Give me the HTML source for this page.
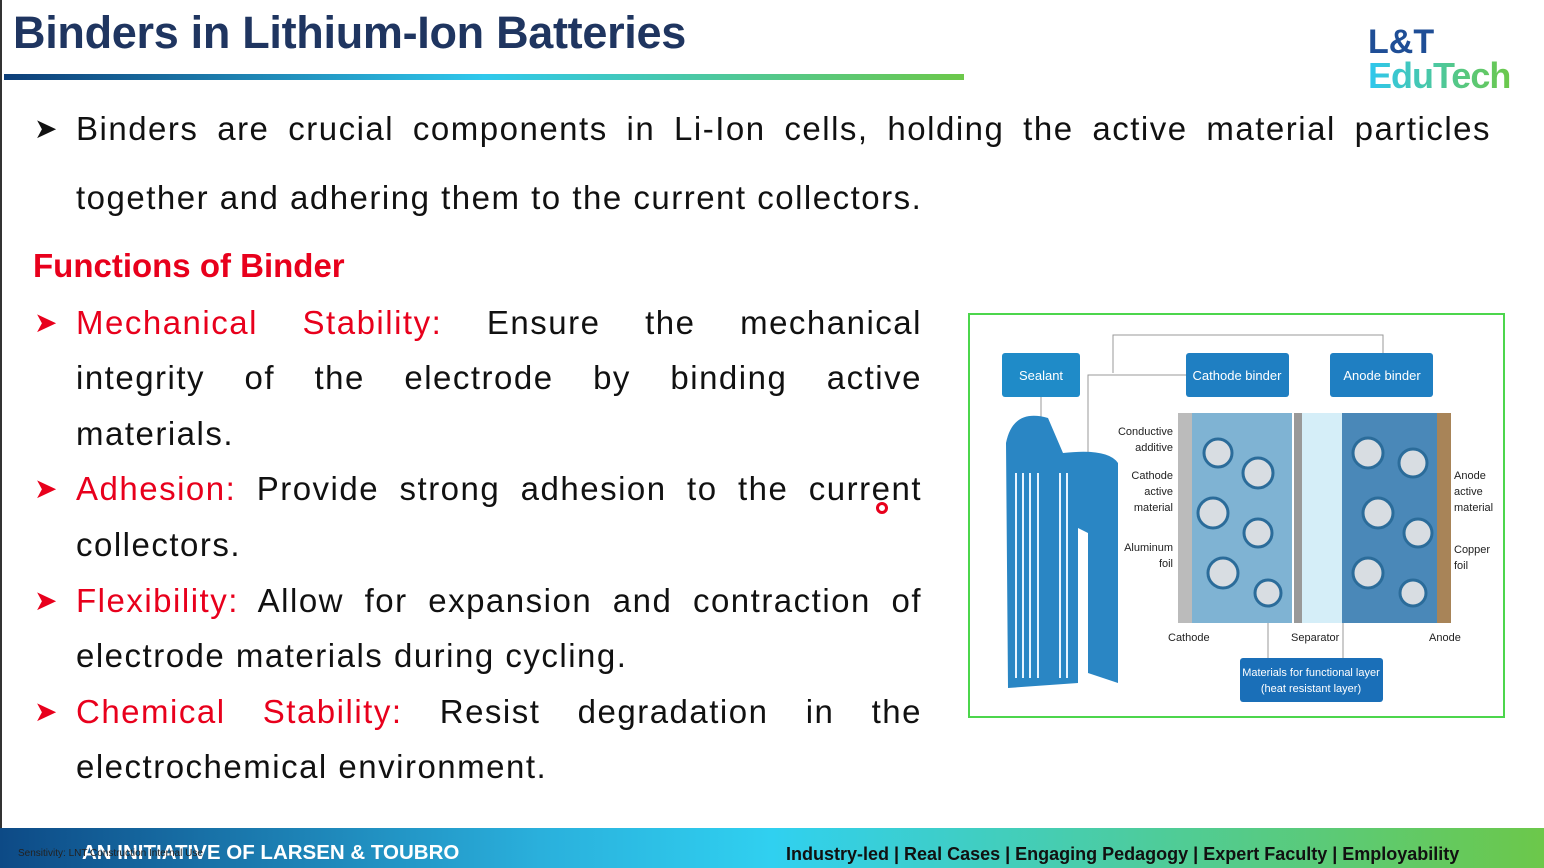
<!DOCTYPE html>
<html><head><meta charset="utf-8"><style>
*{margin:0;padding:0;box-sizing:border-box}
body{width:1544px;height:868px;background:#fff;position:relative;overflow:hidden;font-family:"Liberation Sans",sans-serif}
.abs{position:absolute}
.ln{position:absolute;left:76px;width:846px;font-size:33px;letter-spacing:1.5px;color:#111;text-align:justify;text-align-last:justify;white-space:nowrap;line-height:40px}
.ln.l{text-align-last:left}
.r{color:#e8001c}
.arr{position:absolute;left:34px;font-size:28px;color:#111;line-height:40px}
.arr.red{color:#e8001c}
</style></head><body>
<div class="abs" style="left:0;top:0;width:2px;height:828px;background:#333"></div>
<div class="abs" style="left:13px;top:7px;font-size:45px;font-weight:bold;color:#1f3560;letter-spacing:-0.3px">Binders in Lithium-Ion Batteries</div>
<div class="abs" style="left:4px;top:74px;width:960px;height:6px;background:linear-gradient(90deg,#0d3e78,#2fc8ec 50%,#6cc84a)"></div>
<div class="abs" style="left:1368px;top:26px;font-size:34px;font-weight:bold;color:#1f4e96;line-height:32px">L&amp;T</div>
<div class="abs" style="left:1368px;top:58px;font-size:36px;font-weight:bold;line-height:36px;letter-spacing:-1px;background:linear-gradient(90deg,#2ec7ef,#6cc84a);-webkit-background-clip:text;color:transparent">EduTech</div>

<div class="arr" style="top:109px">&#10148;</div>
<div class="ln" style="top:109px;width:1415px">Binders are crucial components in Li-Ion cells, holding the active material particles</div>
<div class="ln l" style="top:178px;width:1415px">together and adhering them to the current collectors.</div>

<div class="abs" style="left:33px;top:247px;font-size:33px;font-weight:bold;color:#e8001c">Functions of Binder</div>

<div class="arr red" style="top:303px">&#10148;</div>
<div class="ln" style="top:303px"><span class="r">Mechanical Stability:</span> Ensure the mechanical</div>
<div class="ln" style="top:358px">integrity of the electrode by binding active</div>
<div class="ln l" style="top:414px">materials.</div>
<div class="arr red" style="top:469px">&#10148;</div>
<div class="ln" style="top:469px"><span class="r">Adhesion:</span> Provide strong adhesion to the current</div>
<div class="ln l" style="top:525px">collectors.</div>
<div class="arr red" style="top:581px">&#10148;</div>
<div class="ln" style="top:581px"><span class="r">Flexibility:</span> Allow for expansion and contraction of</div>
<div class="ln l" style="top:636px">electrode materials during cycling.</div>
<div class="arr red" style="top:692px">&#10148;</div>
<div class="ln" style="top:692px"><span class="r">Chemical Stability:</span> Resist degradation in the</div>
<div class="ln l" style="top:747px">electrochemical environment.</div>
<div class="abs" style="left:876px;top:502px;width:12px;height:12px;border-radius:50%;border:3px solid #e8001c;background:#fff"></div>

<svg class="abs" style="left:968px;top:313px" width="537" height="405" viewBox="0 0 537 405" font-family="Liberation Sans,sans-serif">
<rect x="1" y="1" width="535" height="403" fill="#fff" stroke="#4cd64c" stroke-width="2"/>
<g stroke="#999" fill="none" stroke-width="1">
<polyline points="145,60 145,22 415,22 415,40"/>
<polyline points="120,185 120,62 218,62"/>
<line x1="73" y1="83" x2="73" y2="110"/>
<line x1="300" y1="308" x2="300" y2="345"/>
<line x1="375" y1="300" x2="375" y2="345"/>
</g>
<g font-size="13" fill="#fff" text-anchor="middle">
<rect x="34" y="40" width="78" height="44" rx="3" fill="#1f8bc8"/><text x="73" y="67">Sealant</text>
<rect x="218" y="40" width="103" height="44" rx="3" fill="#1f7fc2"/><text x="269" y="67">Cathode binder</text>
<rect x="362" y="40" width="103" height="44" rx="3" fill="#1f7fc2"/><text x="414" y="67">Anode binder</text>
<rect x="272" y="345" width="143" height="44" rx="3" fill="#1a6fb8"/><text x="343" y="363" font-size="11">Materials for functional layer</text><text x="343" y="379" font-size="11">(heat resistant layer)</text>
</g>
<path d="M38,130 Q45,95 80,105 L95,140 Q140,135 150,150 L150,370 L120,360 L120,220 L110,215 L110,370 L40,375 Z" fill="#2a86c4"/>
<g stroke="#e8f4ff" stroke-width="2">
<line x1="48" y1="160" x2="48" y2="365"/><line x1="55" y1="160" x2="55" y2="365"/><line x1="62" y1="160" x2="62" y2="365"/><line x1="70" y1="160" x2="70" y2="365"/><line x1="92" y1="160" x2="92" y2="365"/><line x1="99" y1="160" x2="99" y2="365"/>
</g>
<rect x="210" y="100" width="14" height="210" fill="#bbb"/>
<rect x="224" y="100" width="100" height="210" fill="#7fb3d3"/>
<rect x="326" y="100" width="8" height="210" fill="#999"/>
<rect x="334" y="100" width="40" height="210" fill="#d5eef8"/>
<rect x="374" y="100" width="95" height="210" fill="#4a88b8"/>
<rect x="469" y="100" width="14" height="210" fill="#a88458"/>
<g fill="#d8dde2" stroke="#2b6c9a" stroke-width="3">
<circle cx="250" cy="140" r="14"/><circle cx="290" cy="160" r="15"/><circle cx="245" cy="200" r="15"/><circle cx="290" cy="220" r="14"/><circle cx="255" cy="260" r="15"/><circle cx="300" cy="280" r="13"/>
<circle cx="400" cy="140" r="15"/><circle cx="445" cy="150" r="14"/><circle cx="410" cy="200" r="15"/><circle cx="450" cy="220" r="14"/><circle cx="400" cy="260" r="15"/><circle cx="445" cy="280" r="13"/>
</g>
<g font-size="11" fill="#222" text-anchor="end">
<text x="205" y="122">Conductive</text><text x="205" y="138">additive</text>
<text x="205" y="166">Cathode</text><text x="205" y="182">active</text><text x="205" y="198">material</text>
<text x="205" y="238">Aluminum</text><text x="205" y="254">foil</text>
</g>
<g font-size="11" fill="#222">
<text x="486" y="166">Anode</text><text x="486" y="182">active</text><text x="486" y="198">material</text>
<text x="486" y="240">Copper</text><text x="486" y="256">foil</text>
<text x="200" y="328">Cathode</text><text x="323" y="328">Separator</text><text x="461" y="328">Anode</text>
</g>
</svg>

<div class="abs" style="left:0;top:828px;width:1544px;height:40px;background:linear-gradient(90deg,#0d4a86,#2ab0dc 35%,#30d0f0 50%,#4ecc9a 75%,#6cc84a)"></div>
<div class="abs" style="left:82px;top:841px;font-size:20.5px;font-weight:bold;color:#fff">AN INITIATIVE OF LARSEN &amp; TOUBRO</div>
<div class="abs" style="left:18px;top:848px;font-size:10px;color:#222">Sensitivity: LNT Construction Internal Use</div>
<div class="abs" style="left:786px;top:844px;font-size:18px;font-weight:bold;color:#111">Industry-led | Real Cases | Engaging Pedagogy | Expert Faculty | Employability</div>
</body></html>
